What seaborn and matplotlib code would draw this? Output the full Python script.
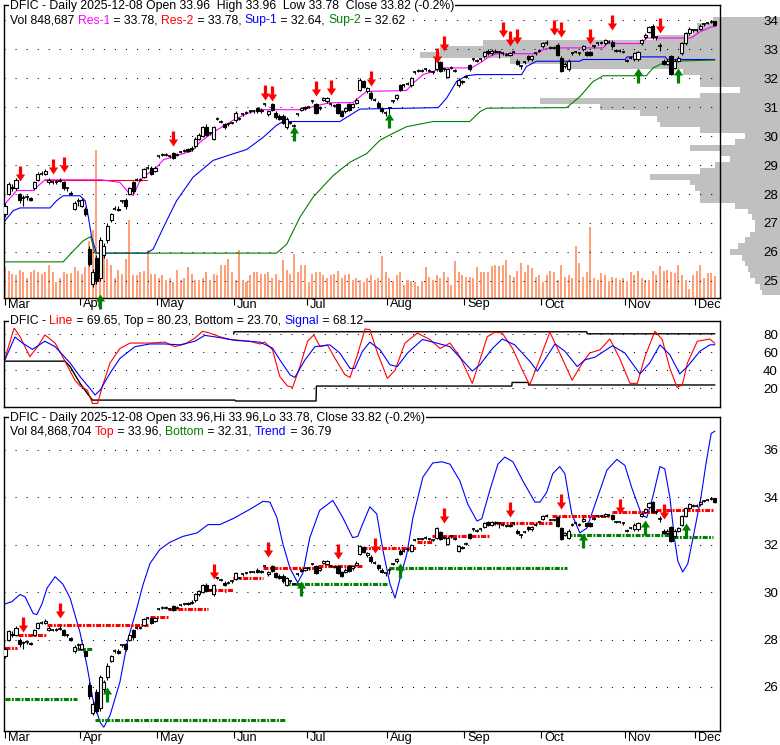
import matplotlib
matplotlib.use("Agg")
import numpy as np
import pandas as pd
import seaborn as sns
import matplotlib.pyplot as plt
from matplotlib.path import Path
from matplotlib.transforms import offset_copy

# ---------------- data ----------------
months = ['Mar', 'Apr', 'May', 'Jun', 'Jul', 'Aug', 'Sep', 'Oct', 'Nov', 'Dec']
month_pos = [0, 20.5, 41.5, 62.5, 82.5, 104.5, 125.5, 146.5, 169.5, 188.5]

opens = [27.3, 28.0, 28.2, 28.2, 28.0, 27.85, 27.9, 27.85, 28.2, 28.5,
         28.7, 28.7, 28.4, 28.4, 28.4, 28.45, 28.4, 28.2, 28.05, 27.5,
         27.75, 27.6, 27.5, 26.1, 24.9, 25.8, 25.1, 25.9, 26.4, 27.1,
         27.5, 27.5, 27.75, 27.8, 28.0, 28.4, 28.5, 28.5, 28.6, 28.9,
         28.9, 28.8, 29.3, 29.35, 29.35, 29.3, 29.4, 29.35, 29.45, 29.5,
         29.55, 29.55, 29.65, 29.9, 30.0, 30.3, 30.1, 29.9, 30.6, 30.5,
         30.4, 30.4, 30.45, 30.55, 30.6, 30.75, 30.8, 30.85, 30.85, 30.95,
         30.85, 31.1, 30.75, 31.1, 30.8, 30.7, 30.7, 30.3, 30.45, 30.35,
         30.75, 30.9, 30.95, 31.0, 31.2, 31.1, 30.95, 31.25, 31.2, 31.1,
         31.05, 31.1, 30.85, 30.85, 31.1, 31.0, 31.15, 31.6, 31.9, 31.55,
         31.5, 31.25, 31.15, 30.95, 30.8, 30.95, 31.2, 31.3, 31.75, 31.75,
         31.8, 31.75, 32.2, 32.25, 32.25, 32.3, 32.25, 32.2, 32.3, 32.55,
         32.3, 32.05, 32.35, 32.25, 31.75, 31.85, 32.05, 32.45, 32.65, 32.6,
         32.65, 32.75, 32.95, 32.85, 32.9, 32.9, 32.85, 32.8, 32.8, 32.9,
         32.6, 32.4, 32.55, 32.75, 32.65, 32.85, 32.95, 33.1, 33.2, 33.05,
         33.05, 33.15, 32.7, 32.4, 32.3, 32.85, 32.9, 32.85, 33.0, 32.9,
         32.9, 33.1, 33.2, 33.22, 33.2, 33.25, 33.25, 32.95, 32.95, 32.9,
         32.6, 32.7, 32.65, 32.65, 33.2, 33.4, 33.6, 33.8, 33.4, 33.1,
         32.6, 32.5, 32.75, 32.35, 32.6, 32.85, 33.2, 33.55, 33.65, 33.65,
         33.7, 33.85, 33.9, 33.95, 33.96]
closes = [27.6, 28.35, 28.25, 28.5, 27.8, 27.85, 27.9, 27.8, 28.4, 28.7,
          28.7, 28.8, 28.5, 28.4, 28.4, 28.45, 28.2, 28.2, 28.0, 27.7,
          27.75, 27.8, 27.3, 25.6, 25.3, 25.0, 26.4, 26.2, 26.9, 27.3,
          27.5, 27.45, 27.75, 27.6, 28.2, 28.1, 28.5, 28.5, 28.85, 28.9,
          28.7, 28.9, 29.3, 29.35, 29.35, 29.3, 29.25, 29.35, 29.45, 29.5,
          29.5, 29.6, 29.9, 30.05, 30.3, 30.05, 30.1, 30.3, 30.6, 30.5,
          30.3, 30.4, 30.45, 30.8, 30.6, 30.75, 30.8, 30.85, 30.85, 30.85,
          30.9, 31.1, 30.85, 30.9, 30.65, 30.6, 30.45, 30.6, 30.45, 30.35,
          30.75, 30.95, 31.0, 31.0, 31.2, 30.8, 31.0, 31.3, 31.3, 31.1,
          31.05, 30.8, 30.7, 30.95, 30.9, 31.1, 31.25, 31.95, 31.7, 31.65,
          31.3, 31.25, 31.0, 30.85, 30.8, 30.95, 31.2, 31.4, 31.6, 31.75,
          31.8, 32.0, 32.2, 32.25, 32.25, 32.3, 32.25, 32.2, 32.7, 32.25,
          32.3, 32.3, 32.35, 32.25, 31.95, 31.9, 32.05, 32.3, 32.65, 32.6,
          32.65, 32.9, 32.85, 32.95, 32.95, 32.9, 32.85, 32.8, 32.85, 32.9,
          32.5, 32.4, 32.55, 32.65, 32.75, 32.85, 32.95, 33.2, 33.2, 33.05,
          33.05, 32.8, 32.25, 32.5, 32.6, 32.85, 32.9, 32.85, 33.1, 32.8,
          32.8, 33.1, 33.2, 33.22, 33.3, 33.25, 33.1, 32.95, 32.95, 32.9,
          32.6, 32.7, 32.85, 32.9, 33.3, 33.5, 33.75, 33.4, 33.4, 33.1,
          32.5, 32.6, 32.15, 32.6, 32.7, 33.2, 33.55, 33.7, 33.65, 33.65,
          33.8, 33.85, 33.9, 33.95, 33.82]
highs = [27.7, 28.4, 28.35, 28.55, 28.05, 27.95, 27.95, 27.9, 28.45, 28.75,
         28.8, 28.85, 28.55, 28.45, 28.5, 28.55, 28.45, 28.25, 28.1, 27.75,
         27.85, 27.85, 27.55, 26.2, 25.4, 25.9, 26.5, 26.3, 27.0, 27.35,
         27.6, 27.6, 27.8, 27.85, 28.25, 28.45, 28.55, 28.55, 28.9, 28.95,
         28.95, 28.95, 29.35, 29.4, 29.4, 29.35, 29.45, 29.4, 29.5, 29.55,
         29.6, 29.65, 29.95, 30.1, 30.35, 30.4, 30.15, 30.35, 30.65, 30.55,
         30.45, 30.45, 30.5, 30.85, 30.65, 30.8, 30.85, 30.9, 30.9, 31.0,
         30.95, 31.15, 30.9, 31.15, 30.85, 30.75, 30.75, 30.65, 30.5, 30.4,
         30.8, 31.0, 31.05, 31.05, 31.25, 31.15, 31.05, 31.35, 31.35, 31.15,
         31.1, 31.15, 30.9, 31.0, 31.15, 31.15, 31.3, 32.0, 31.95, 31.7,
         31.55, 31.3, 31.2, 31.0, 30.85, 31.0, 31.25, 31.45, 31.8, 31.8,
         31.85, 32.05, 32.25, 32.3, 32.3, 32.35, 32.3, 32.25, 32.75, 32.6,
         32.35, 32.35, 32.4, 32.3, 32.0, 31.95, 32.1, 32.5, 32.7, 32.65,
         32.7, 32.95, 33.0, 33.0, 33.0, 32.95, 32.9, 32.85, 32.9, 32.95,
         32.65, 32.45, 32.6, 32.8, 32.8, 32.9, 33.0, 33.25, 33.3, 33.1,
         33.1, 33.2, 32.75, 32.55, 32.65, 32.9, 32.95, 32.9, 33.15, 32.95,
         32.95, 33.15, 33.25, 33.27, 33.35, 33.3, 33.3, 33.0, 33.0, 32.95,
         32.65, 32.75, 32.9, 32.95, 33.35, 33.55, 33.8, 33.85, 33.45, 33.2,
         32.65, 32.65, 32.8, 32.65, 32.75, 33.25, 33.6, 33.75, 33.7, 33.7,
         33.85, 33.9, 33.95, 34.0, 33.96]
lows = [27.2, 27.95, 28.1, 28.15, 27.7, 27.6, 27.8, 27.75, 28.15, 28.45,
        28.65, 28.65, 28.35, 28.35, 28.35, 28.4, 28.15, 28.1, 27.95, 27.45,
        27.6, 27.55, 27.25, 25.5, 24.8, 24.9, 25.0, 25.8, 26.3, 27.05,
        27.45, 27.4, 27.7, 27.5, 27.95, 28.0, 28.45, 28.45, 28.55, 28.85,
        28.65, 28.75, 29.25, 29.3, 29.3, 29.25, 29.2, 29.3, 29.4, 29.45,
        29.45, 29.5, 29.6, 29.85, 29.95, 30.0, 30.05, 29.85, 30.55, 30.45,
        30.25, 30.35, 30.4, 30.5, 30.55, 30.7, 30.75, 30.8, 30.8, 30.8,
        30.8, 31.05, 30.7, 30.85, 30.6, 30.55, 30.4, 30.25, 30.4, 30.3,
        30.7, 30.85, 30.9, 30.95, 31.15, 30.75, 30.9, 31.2, 31.15, 31.05,
        31.0, 30.75, 30.65, 30.8, 30.85, 30.95, 31.1, 31.55, 31.65, 31.5,
        31.25, 31.2, 30.95, 30.8, 30.7, 30.75, 31.15, 31.25, 31.55, 31.7,
        31.75, 31.7, 32.15, 32.2, 32.2, 32.25, 32.2, 32.15, 32.25, 32.2,
        32.25, 32.0, 32.3, 32.2, 31.7, 31.8, 32.0, 32.25, 32.6, 32.55,
        32.6, 32.7, 32.8, 32.8, 32.85, 32.7, 32.8, 32.75, 32.75, 32.85,
        32.45, 32.3, 32.5, 32.6, 32.6, 32.8, 32.9, 33.05, 33.15, 33.0,
        33.0, 32.75, 32.2, 32.35, 32.25, 32.8, 32.85, 32.8, 32.95, 32.75,
        32.75, 33.05, 33.15, 33.17, 33.15, 33.2, 33.05, 32.9, 32.9, 32.85,
        32.55, 32.65, 32.6, 32.6, 33.15, 33.35, 33.55, 33.35, 33.3, 32.95,
        32.45, 32.45, 32.1, 32.3, 32.55, 32.8, 33.15, 33.5, 33.6, 33.6,
        33.65, 33.8, 33.85, 33.9, 33.78]
# daily volume, thousands of shares
volume_k = [1160, 1040, 890, 850, 1080, 1000, 770, 970, 1080, 970,
            890, 970, 1240, 970, 580, 770, 970, 890, 930, 1160,
            1040, 890, 1160, 2200, 2620, 5710, 1740, 1620, 1470, 1270,
            770, 1080, 890, 1470, 3010, 850, 850, 970, 1040, 1850,
            890, 890, 770, 850, 690, 770, 580, 1080, 690, 770,
            1160, 890, 660, 690, 770, 1000, 690, 890, 850, 1270,
            1240, 1470, 970, 690, 1850, 660, 580, 850, 970, 1000,
            890, 890, 970, 770, 890, 690, 1430, 1080, 890, 1660,
            970, 1270, 1240, 580, 890, 970, 970, 850, 770, 850,
            890, 1040, 770, 850, 890, 690, 770, 660, 580, 770,
            850, 690, 770, 1620, 1000, 770, 620, 850, 970, 500,
            690, 620, 580, 460, 620, 1160, 810, 690, 850, 770,
            970, 810, 500, 1390, 1000, 850, 810, 810, 770, 1160,
            1000, 1000, 970, 1200, 1240, 1200, 1270, 1430, 850, 810,
            1040, 1350, 970, 1270, 1120, 810, 850, 580, 850, 1040,
            970, 660, 1270, 810, 850, 770, 1970, 1350, 810, 970,
            2740, 770, 690, 930, 850, 620, 810, 770, 690, 770,
            620, 970, 850, 1040, 770, 660, 660, 1040, 850, 1200,
            1040, 1080, 1000, 930, 1240, 850, 660, 310, 850, 1040,
            1270, 770, 930, 930, 849]

# volume-by-price profile (price bin centre, relative size)
prof_price = [34.0, 33.8, 33.6, 33.4, 33.2, 33.0, 32.8, 32.6, 32.4, 32.2,
              32.0, 31.8, 31.6, 31.4, 31.2, 31.0, 30.8, 30.6, 30.4, 30.2,
              30.0, 29.8, 29.6, 29.4, 29.2, 29.0, 28.8, 28.6, 28.4, 28.2,
              28.0, 27.8, 27.6, 27.4, 27.2, 27.0, 26.8, 26.6, 26.4, 26.2,
              26.0, 25.8, 25.6, 25.4, 25.2, 25.0, 24.8, 24.6]
prof_size = [67, 83, 87, 123, 297, 340, 360, 270, 213, 97,
             80, 80, 40, 80, 240, 180, 140, 123, 120, 80,
             35, 45, 90, 60, 50, 65, 80, 130, 90, 85,
             80, 80, 45, 32, 28, 25, 25, 30, 35, 42,
             50, 38, 35, 32, 30, 25, 20, 18]

# price panel indicator lines (day index, value)
res1_x = [0, 3.2, 7.7, 10.9, 26.3, 31.4, 33.7, 35, 36.9, 38.7, 41.4, 43.3, 46, 51,
          53.3, 57, 62.3, 66, 69.7, 82, 84.2, 88.8, 95, 98.8, 109.7, 111.6, 114.3,
          117, 119.3, 127.5, 129.8, 132.5, 134.3, 145.3, 147, 148.9, 163.5, 164.5,
          173.5, 175.5, 187.5, 190, 193, 194]
res1_v = [27.66, 28.12, 28.12, 28.49, 28.49, 28.4, 28.06, 27.94, 28.46, 28.67, 28.92,
          29.18, 29.29, 29.48, 29.79, 30.14, 30.54, 30.77, 30.91, 30.91, 31.02, 31.15,
          31.15, 31.54, 31.57, 31.83, 32.12, 32.23, 32.35, 32.35, 32.52, 32.75, 32.84,
          32.84, 32.98, 33.04, 33.04, 33.19, 33.19, 33.38, 33.38, 33.6, 33.76, 33.78]
res2_x = [10.9, 38.7]
res2_v = [28.49, 28.49]
sup1_x = [0, 2.3, 4.1, 12.3, 14.1, 15.9, 20.5, 21.9, 22.8, 23.7, 25, 38.7, 40.5, 43.3,
          46.9, 51.4, 56.9, 62.4, 66, 70.6, 74.2, 76, 91.5, 97, 118.4, 120.7, 123.4,
          126.1, 128.9, 141.2, 142.5, 145.3, 157, 158, 169.5, 170, 180.5, 181, 194]
sup1_v = [27.08, 27.43, 27.52, 27.52, 27.77, 27.94, 27.94, 27.77, 27.2, 26.5, 25.96,
          25.96, 26.1, 26.85, 27.77, 28.58, 29.16, 29.39, 29.53, 29.96, 30.37, 30.5,
          30.5, 30.93, 30.98, 31.31, 31.88, 32.08, 32.12, 32.12, 32.4, 32.58, 32.58,
          32.64, 32.64, 32.73, 32.73, 32.64, 32.64]
sup2_x = [0, 15.9, 18.7, 21.4, 23.4, 24.6, 74.2, 77, 80.6, 84.2, 89.7, 94.3, 98.8,
          102.5, 106, 109.7, 117, 127, 129.8, 131.6, 153.5, 157.1, 160.7, 163.5,
          175.3, 177.1, 179.9, 181.7, 194]
sup2_v = [25.66, 25.66, 26.04, 26.39, 26.53, 25.96, 25.96, 26.27, 27.2, 27.89, 28.64,
          29.1, 29.39, 29.86, 30.09, 30.32, 30.5, 30.5, 30.84, 30.96, 30.98, 31.36,
          31.88, 32.08, 32.08, 32.35, 32.52, 32.58, 32.62]

# signal arrows (day index, price at arrow tip)
p_down_x = [4, 13, 16, 46, 71, 73, 85, 89, 100, 118, 120, 136, 138, 140, 150, 152,
            160, 166, 179]
p_down_v = [28.46, 28.7, 28.75, 29.64, 31.25, 31.2, 31.37, 31.43, 31.74, 32.52,
            32.92, 33.42, 33.1, 33.19, 33.5, 33.42, 33.16, 33.65, 33.56]
p_up_x = [26, 79, 105, 173, 184]
p_up_v = [24.56, 30.36, 30.79, 32.35, 32.35]

# oscillator panel
line_x = [0, 2.5, 4.1, 6.8, 8.9, 10.9, 13.7, 16.4, 19.1, 20.5, 22.5, 23.9, 25.3, 26.6,
          28.7, 31.4, 34.2, 39.6, 43.7, 46.4, 49.2, 51.9, 54, 56, 58.7, 61.5, 66.9,
          69.7, 71, 73.1, 75.1, 77.2, 78.6, 80.6, 82.7, 84.4, 86.1, 88.1, 90.2, 92.9,
          94.3, 96.3, 98.4, 99.7, 101.8, 104.5, 106.6, 109.3, 112.7, 116.1, 118.9,
          121.6, 124.3, 126.4, 127.7, 129.8, 131.8, 133.9, 135.9, 138.7, 141.4, 143.4,
          146.2, 148.9, 151.6, 155, 157.8, 159.8, 162.6, 165.3, 168, 170.8, 172.8,
          174.9, 177.6, 179.6, 181.7, 183.7, 185.1, 186.5, 189.2, 192.6, 194]
line_v = [53, 86.7, 77, 55, 66, 79, 70, 50, 29, 22.6, 18, 3.3, 3.3, 22, 48, 64, 70, 70,
          71, 66, 69, 75.5, 83, 81, 77, 74, 72, 69, 71, 62.6, 33, 22.6, 21, 44, 72, 79,
          66, 68, 53, 35, 32, 57, 85.5, 85, 59, 31, 40, 70, 81, 74, 64, 70, 55, 37, 25.5,
          51.5, 77, 82, 81, 64, 40, 23.7, 53, 82, 59, 29, 48, 59, 62.6, 74.5, 53, 25.5,
          25.5, 55, 83, 74, 42, 21, 24, 48, 72, 74.5, 69.65]
sig_x = [0, 2.7, 4.8, 7.5, 10.9, 13.7, 17.8, 20.5, 23.2, 24.6, 26, 28.7, 31.4, 35.5,
         39.6, 43.7, 47.8, 51.9, 54.6, 58.7, 62.8, 69.7, 73.1, 75.1, 77.9, 79.2, 82,
         84.7, 88.8, 91.5, 94.3, 95.6, 97.7, 99.7, 102.5, 105.2, 107.2, 110, 114.1,
         118.9, 121.6, 125.7, 127.7, 129.8, 133.2, 135.9, 139.3, 143.4, 145.5, 147.5,
         150.3, 153, 156.4, 158.5, 161.2, 166, 169.4, 173.5, 176.2, 179, 181.7, 184.4,
         186.5, 189.9, 192.6, 194]
sig_v = [51.5, 76.7, 70, 63, 72, 66, 48, 33, 20, 12.6, 18, 36.7, 53, 66, 69, 69, 68,
         72, 78.5, 76, 73, 71, 64.4, 51.5, 35, 32, 51.5, 66, 68, 59, 42, 42, 61, 71,
         62.6, 46, 44, 59, 74, 69, 66, 48, 39, 46, 64, 74.5, 68, 50, 39, 51.5, 69, 61,
         44, 51.5, 54.4, 67, 59, 36, 48, 68, 57, 36, 44, 61, 68, 68.12]
otop_x = [62.5, 62.6, 159, 159.1, 194]
otop_v = [80, 82.5, 82.5, 80.23, 80.23]
obot_x = [0, 16.4, 17.8, 20.5, 22.5, 23.9, 62.8, 63, 85, 85.1, 138.5, 138.6, 143,
          143.1, 194]
obot_v = [50, 50, 44, 25.6, 14.4, 7, 7, 6, 6, 22.5, 22.5, 26.5, 26.5, 23.7, 23.7]

# trend panel
trend_x = [0, 1.9, 4.1, 5.5, 7.7, 8.7, 10.1, 11.5, 13.7, 15.8, 17.8, 20.5, 22.4, 24,
           26, 27, 28.7, 31.4, 33.6, 36, 37.7, 39.6, 42.3, 45, 48.6, 52.5, 55.5, 58.7,
           62.3, 67, 70.5, 72.4, 74.3, 76, 77.9, 80, 81.4, 83.3, 86, 89.6, 92.3, 95,
           96.4, 97.8, 99.7, 101.6, 103.3, 105.2, 106.6, 108, 109.8, 111.5, 114.2,
           116.9, 119.4, 121.6, 124.3, 126.5, 129, 130.3, 132.5, 134.7, 136.6, 138.8,
           141.5, 144.8, 146.2, 148, 149.7, 151.6, 153, 154.9, 157.1, 159, 161.7,
           164.5, 167.2, 169.4, 171.3, 174, 175.4, 177, 179, 180.3, 181.7, 183, 183.9,
           185.2, 186.6, 188.3, 190.2, 191.6, 193, 194]
trend_v = [29.5, 29.6, 29.9, 29.8, 29.1, 29.05, 29.5, 30.17, 30.65, 30.34, 29.75, 28.3,
           26.9, 25.5, 24.5, 24.3, 24.8, 26.2, 28.0, 29.3, 30.3, 31.2, 31.8, 32.1, 32.35,
           32.5, 32.85, 32.85, 33.1, 33.5, 33.83, 33.8, 33.15, 32.0, 31.0, 30.4, 30.8,
           32.3, 33.45, 33.87, 33.15, 32.3, 32.35, 32.9, 33.6, 33.3, 31.75, 30.35, 29.75,
           30.6, 31.6, 33.15, 34.85, 35.45, 35.5, 35.4, 34.7, 33.7, 33.0, 33.1, 34.3,
           35.4, 35.7, 35.5, 34.7, 33.8, 33.8, 34.2, 35.0, 35.3, 35.0, 33.3, 32.5, 32.7,
           33.9, 35.15, 35.6, 35.35, 34.4, 33.25, 33.15, 34.0, 35.3, 35.2, 34.0, 32.2,
           31.3, 30.85, 31.2, 32.5, 34.0, 35.45, 36.7, 36.79]
top_start = [0, 3.6, 11.5, 39.6, 44.5, 55.5, 62.3, 70.5, 85.5, 97.5, 112.6, 116.7,
             132.5, 149.5, 165.8, 178]
top_end = [3.3, 11.5, 39, 44.5, 55.5, 62.3, 70.5, 85.5, 97.5, 112.6, 116.7, 132.5,
           149.5, 165.8, 178, 193.4]
top_val = [27.66, 28.17, 28.6, 28.94, 29.3, 30.1, 30.6, 31.0, 31.1, 31.87, 32.13,
           32.35, 32.9, 33.2, 33.37, 33.45]
bot_start = [0, 19.7, 24.6, 76.5, 105, 153.5, 182.5]
bot_end = [19.7, 24, 76.5, 104.4, 153.5, 181.7, 193.4]
bot_val = [25.5, 27.6, 24.6, 30.35, 31.0, 32.4, 32.31]
t_down_x = [5, 15, 57, 72, 91, 101, 120, 138, 152, 168, 180]
t_down_v = [28.3, 28.9, 30.55, 31.5, 31.4, 31.65, 32.9, 33.15, 33.5, 33.3, 33.1]
t_up_x = [28, 81, 108, 158, 175, 186]
t_up_v = [26.0, 30.45, 31.25, 32.5, 33.05, 32.9]

# ---------------- drawing ----------------
sns.set_theme(style="white")
plt.rcParams['font.family'] = ['Liberation Sans', 'DejaVu Sans']
plt.rcParams['lines.scale_dashes'] = False

W, H = 780, 745
FS = 8.85
fig = plt.figure(figsize=(W / 100, H / 100), dpi=100)
fig.patch.set_facecolor('white')


def rect(l, t, r, b):
    return [l / W, 1 - b / H, (r - l) / W, (b - t) / H]


RED, GREEN, BLUE, MAG = '#FF0000', '#008000', '#0000FF', '#FF00FF'
XL = (-0.27, 195.4)
days = np.arange(len(closes))

ax_prof = fig.add_axes(rect(4, 5, 780, 297.5), zorder=0)
ax_vol = fig.add_axes(rect(4, 5, 720, 297.5), zorder=1)
ax1 = fig.add_axes(rect(4, 5, 720, 297.5), zorder=2)
ax2 = fig.add_axes(rect(4, 320.7, 720, 406.7), zorder=2)
ax3 = fig.add_axes(rect(4, 417, 720, 731), zorder=2)

# volume profile on the right side of the price panel
ax_prof.barh(prof_price, prof_size, height=0.2, left=0, color='#C0C0C0', linewidth=0)
ax_prof.set_xlim(776, 0)
ax_prof.set_ylim(24.43, 34.52)
ax_prof.set_axis_off()

ax_vol.bar(days, volume_k, width=0.55, color='#FFA07A', linewidth=0)
ax_vol.set_xlim(*XL)
ax_vol.set_ylim(0, 11290)
ax_vol.set_axis_off()

down_arrow = Path([(-1.6, 15), (1.6, 15), (1.6, 7), (4.6, 7), (0, 0), (-4.6, 7),
                   (-1.6, 7), (-1.6, 15)],
                  [Path.MOVETO] + [Path.LINETO] * 6 + [Path.CLOSEPOLY])
up_arrow = Path([(-1.6, -15), (1.6, -15), (1.6, -7), (4.6, -7), (0, 0), (-4.6, -7),
                 (-1.6, -7), (-1.6, -15)],
                [Path.MOVETO] + [Path.LINETO] * 6 + [Path.CLOSEPOLY])


def style_panel(ax, ylim, ticks):
    ax.set_facecolor('none')
    ax.set_xlim(*XL)
    ax.set_ylim(*ylim)
    for s in ax.spines.values():
        s.set_color('black')
        s.set_linewidth(1.0)
    ax.set_xticks([])
    ax.set_yticks(ticks)
    ax.set_yticklabels([str(t) for t in ticks])
    ax.yaxis.tick_right()
    ax.tick_params(axis='y', length=0, pad=31, labelsize=9.6, labelcolor='black')
    for t in ticks:
        ax.axhline(t, color='black', lw=0.75, ls=(0, (0.75, 7.2)), zorder=1)


def month_axis(ax, height_px):
    trans = ax.get_xaxis_transform()
    ax.vlines(month_pos, 0, -7 / height_px, color='black', lw=0.8,
              transform=trans, clip_on=False)
    lab_t = offset_copy(trans, fig=fig, x=3, y=-1, units='dots')
    for p, m in zip(month_pos, months):
        ax.text(p, 0, m, transform=lab_t, ha='left', va='top', fontsize=9.2,
                color='black')


def candles(ax):
    ax.vlines(days, lows, highs, color='black', lw=0.8, zorder=3)
    for i, (o, c) in enumerate(zip(opens, closes)):
        if abs(c - o) < 0.03:
            ax.hlines(c, i - 0.45, i + 0.45, color='black', lw=1.2, zorder=4)
        elif c > o:
            ax.bar(i, c - o, bottom=o, width=0.85, facecolor='white',
                   edgecolor='black', linewidth=0.8, zorder=4)
        else:
            ax.bar(i, o - c, bottom=c, width=0.85, facecolor='black',
                   edgecolor='black', linewidth=0.8, zorder=4)


def line(ax, xs, vs, color, lw=0.8):
    sns.lineplot(x=xs, y=vs, ax=ax, color=color, linewidth=lw, estimator=None,
                 sort=False, legend=False, zorder=2)


# --- price panel
style_panel(ax1, (24.43, 34.52), list(range(25, 35)))
line(ax1, res2_x, res2_v, RED)
line(ax1, res1_x, res1_v, MAG)
line(ax1, sup1_x, sup1_v, BLUE)
line(ax1, sup2_x, sup2_v, GREEN)
candles(ax1)
ax1.plot(p_down_x, p_down_v, ls='none', marker=down_arrow, ms=21.6, color=RED,
         mew=0, zorder=5)
ax1.plot(p_up_x, p_up_v, ls='none', marker=up_arrow, ms=21.6, color=GREEN,
         mew=0, zorder=5, clip_on=False)
month_axis(ax1, 292.5)
ax1.set_ylabel('')

# --- oscillator panel
style_panel(ax2, (-0.3, 94.7), [20, 40, 60, 80])
line(ax2, otop_x, otop_v, 'black', 1.0)
line(ax2, obot_x, obot_v, 'black', 1.0)
line(ax2, line_x, line_v, RED)
line(ax2, sig_x, sig_v, BLUE)
ax2.set_ylabel('')

# --- trend panel
style_panel(ax3, (24.14, 37.39), [26, 28, 30, 32, 34, 36])
line(ax3, trend_x, trend_v, BLUE)
dash = [(0, (3.6, 1.0, 1.4, 1.0))]
ax3.hlines(top_val, top_start, top_end, colors=RED, linewidth=2.2, linestyles=dash,
           zorder=2)
ax3.hlines(bot_val, bot_start, bot_end, colors=GREEN, linewidth=2.2, linestyles=dash,
           zorder=2)
candles(ax3)
ax3.plot(t_down_x, t_down_v, ls='none', marker=down_arrow, ms=21.6, color=RED,
         mew=0, zorder=5)
ax3.plot(t_up_x, t_up_v, ls='none', marker=up_arrow, ms=21.6, color=GREEN,
         mew=0, zorder=5)
month_axis(ax3, 314)
ax3.set_ylabel('')

# --- header texts (coloured pieces placed one after another)
renderer = fig.canvas.get_renderer()


def header(x, y, pieces):
    for txt, col in pieces:
        t = fig.text(x / W, 1 - y / H, txt, color=col, fontsize=FS, ha='left',
                     va='center', zorder=10,
                     bbox=dict(facecolor='white', edgecolor='none', pad=0.6))
        x += t.get_window_extent(renderer).width


K = 'black'
header(10, 6.5, [("DFIC - Daily 2025-12-08 Open 33.96  High 33.96  Low 33.78  "
                  "Close 33.82 (-0.2%)", K)])
header(10, 20.5, [("Vol 848,687 ", K), ("Res-1", MAG), (" = 33.78, ", K),
                  ("Res-2", RED), (" = 33.78, ", K), ("Sup-1", BLUE),
                  (" = 32.64, ", K), ("Sup-2", GREEN), (" = 32.62", K)])
header(10, 321, [("DFIC - ", K), ("Line", RED),
                 (" = 69.65, Top = 80.23, Bottom = 23.70, ", K),
                 ("Signal", BLUE), (" = 68.12", K)])
header(10, 418, [("DFIC - Daily 2025-12-08 Open 33.96,Hi 33.96,Lo 33.78, "
                  "Close 33.82 (-0.2%)", K)])
header(10, 432, [("Vol 84,868,704 ", K), ("Top", RED), (" = 33.96, ", K),
                 ("Bottom", GREEN), (" = 32.31, ", K), ("Trend", BLUE),
                 (" = 36.79", K)])

fig.savefig('out.png', dpi=100)
